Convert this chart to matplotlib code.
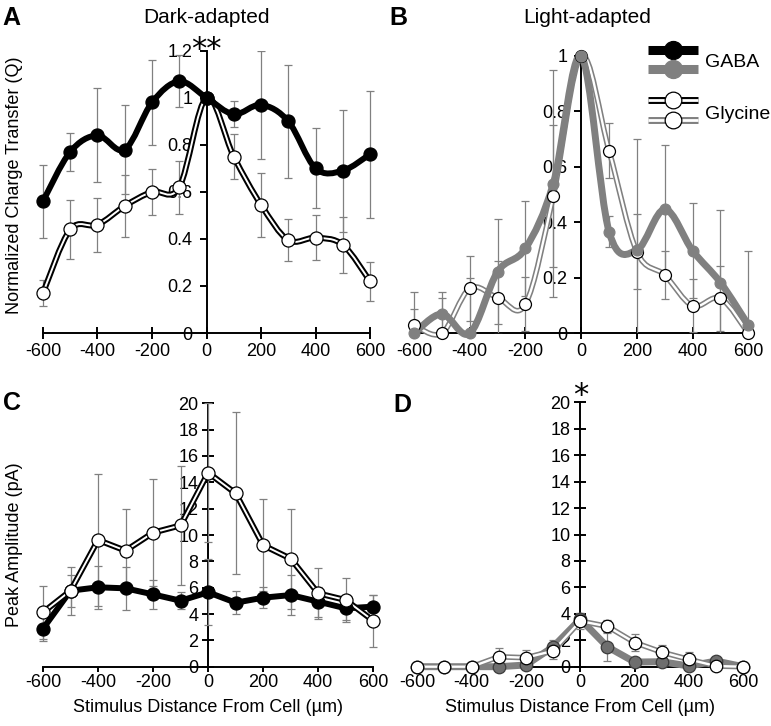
import numpy as np
import matplotlib
matplotlib.use('Agg')
import matplotlib.pyplot as plt
import matplotlib.patches as patches
from matplotlib.path import Path
from matplotlib.lines import Line2D

plt.rcParams['font.family'] = ['Liberation Sans', 'DejaVu Sans']
plt.rcParams['axes.unicode_minus'] = False

W, H = 771, 726
GRAY = '#808080'

# stimulus distance (um)
distance = [-600, -500, -400, -300, -200, -100, 0, 100, 200, 300, 400, 500, 600]
x_ticks = [-600, -400, -200, 0, 200, 400, 600]
x_ticklabels = ['-600', '-400', '-200', '0', '200', '400', '600']

# A: dark-adapted, normalized charge transfer
dark_gaba_q = [0.56, 0.77, 0.84, 0.78, 0.98, 1.07, 1.00, 0.93, 0.97, 0.90, 0.70, 0.69, 0.76]
dark_gaba_q_err = [0.155, 0.08, 0.20, 0.19, 0.18, 0.11, 0.0, 0.055, 0.23, 0.24, 0.17, 0.26, 0.27]
dark_gly_q = [0.17, 0.44, 0.46, 0.54, 0.60, 0.62, 1.00, 0.75, 0.545, 0.395, 0.405, 0.375, 0.22]
dark_gly_q_err = [0.057, 0.124, 0.115, 0.133, 0.099, 0.113, 0.0, 0.095, 0.136, 0.089, 0.096, 0.12, 0.082]

# B: light-adapted, normalized charge transfer
light_gaba_q = [0.0, 0.07, 0.0, 0.222, 0.306, 0.54, 1.00, 0.367, 0.30, 0.447, 0.298, 0.183, 0.03]
light_gaba_q_err = [0.087, 0.078, 0.20, 0.189, 0.171, 0.41, 0.0, 0.056, 0.40, 0.232, 0.171, 0.262, 0.268]
light_gly_q = [0.03, 0.0, 0.162, 0.129, 0.105, 0.496, 1.00, 0.659, 0.294, 0.21, 0.099, 0.126, 0.0]
light_gly_q_err = [0.12, 0.126, 0.117, 0.133, 0.097, 0.256, 0.0, 0.099, 0.136, 0.088, 0.096, 0.117, 0.04]

# C: dark-adapted, peak amplitude (pA)
dark_gaba_amp = [2.89, 5.77, 6.03, 5.95, 5.49, 5.01, 5.65, 4.86, 5.24, 5.44, 4.94, 4.43, 4.56]
dark_gaba_amp_err = [0.91, 1.2, 1.65, 1.65, 1.1, 0.65, 2.5, 0.86, 0.82, 1.52, 1.14, 0.89, 0.9]
dark_gly_amp = [4.13, 5.77, 9.62, 8.81, 10.18, 10.73, 14.73, 13.16, 9.22, 8.2, 5.57, 5.06, 3.49]
dark_gly_amp_err = [2.03, 1.83, 5.01, 3.14, 4.05, 4.53, 5.27, 6.15, 3.49, 3.8, 1.95, 1.65, 1.97]

# D: light-adapted, peak amplitude (pA)
light_gaba_amp = [0.0, 0.0, 0.0, 0.0, 0.13, 1.5, 3.6, 1.5, 0.35, 0.38, 0.05, 0.43, 0.0]
light_gaba_amp_err = [0.0, 0.0, 0.0, 0.1, 0.2, 0.5, 0.45, 1.1, 0.2, 0.3, 0.1, 0.3, 0.0]
light_gly_amp = [0.0, 0.0, 0.0, 0.75, 0.68, 1.2, 3.45, 3.05, 1.83, 1.1, 0.55, 0.05, 0.0]
light_gly_amp_err = [0.0, 0.0, 0.0, 0.63, 0.58, 0.62, 0.62, 0.5, 0.62, 0.57, 0.57, 0.1, 0.0]

q_ticks = [0, 0.2, 0.4, 0.6, 0.8, 1.0, 1.2]
q_ticklabels = ['0', '0.2', '0.4', '0.6', '0.8', '1', '1.2']
amp_ticks = [0, 2, 4, 6, 8, 10, 12, 14, 16, 18, 20]


def px_axes(fig, left, top, right, bottom):
    return fig.add_axes([left / W, 1 - bottom / H, (right - left) / W, (bottom - top) / H])


def fx(x):
    return x / W


def fy(y):
    return 1 - y / H


def smooth_path(x, y):
    # cubic bezier through the points (spreadsheet-style smoothed line)
    pts = np.column_stack([x, y]).astype(float)
    n = len(pts)
    verts = [pts[0]]
    codes = [Path.MOVETO]
    for i in range(n - 1):
        p0 = pts[max(i - 1, 0)]
        p1 = pts[i]
        p2 = pts[i + 1]
        p3 = pts[min(i + 2, n - 1)]
        verts += [p1 + (p2 - p0) / 6, p2 - (p3 - p1) / 6, p2]
        codes += [Path.CURVE4] * 3
    return Path(verts, codes)


def style_axes(ax, ylim, yticks, yticklabels, ytick_dir, ytick_len, ypad, xtick_dir, xtick_len, xpad):
    ax.set_xlim(-620, 620)
    ax.set_ylim(*ylim)
    ax.patch.set_visible(False)
    ax.spines['top'].set_visible(False)
    ax.spines['right'].set_visible(False)
    ax.spines['left'].set_position(('data', 0))
    ax.spines['bottom'].set_bounds(-600, 600)
    for s in ['left', 'bottom']:
        ax.spines[s].set_linewidth(1.4)
    ax.set_xticks(x_ticks)
    ax.set_xticklabels(x_ticklabels)
    ax.set_yticks(yticks)
    ax.set_yticklabels(yticklabels)
    ax.tick_params(axis='y', direction=ytick_dir, length=ytick_len, width=1.4, pad=ypad, labelsize=13)
    ax.tick_params(axis='x', direction=xtick_dir, length=xtick_len, width=1.4, pad=xpad, labelsize=13)


def draw_series(ax, x, y, err, smooth, outer, inner, lw_outer, lw_inner, mfc, mec, ms, z):
    ax.errorbar(x, y, yerr=err, fmt='none', ecolor=GRAY, elinewidth=0.9, capsize=3, capthick=0.9, zorder=2.6)
    if smooth:
        path = smooth_path(x, y)
    else:
        path = Path(np.column_stack([x, y]).astype(float))
    ax.add_patch(patches.PathPatch(path, facecolor='none', edgecolor=outer, lw=lw_outer,
                                   joinstyle='round', capstyle='butt', clip_on=False, zorder=z))
    if inner is not None:
        ax.add_patch(patches.PathPatch(path, facecolor='none', edgecolor=inner, lw=lw_inner,
                                       joinstyle='round', capstyle='butt', clip_on=False, zorder=z + 0.1))
    ax.plot(x, y, 'o', ms=ms, mfc=mfc, mec=mec, mew=0.9, clip_on=False, zorder=z + 3)


fig = plt.figure(figsize=(W / 100, H / 100), dpi=100)

# panel A
ax_a = px_axes(fig, 37.5, 50.7, 375.5, 333)
style_axes(ax_a, (0, 1.2), q_ticks, q_ticklabels, 'out', 5, 5, 'inout', 8, 3)
draw_series(ax_a, distance, dark_gly_q, dark_gly_q_err, True, 'black', 'white', 4.3, 1.4, 'white', 'black', 9.4, 3)
draw_series(ax_a, distance, dark_gaba_q, dark_gaba_q_err, True, 'black', None, 4.3, 0, 'black', 'black', 9.4, 3.5)

# panel B
ax_b = px_axes(fig, 408.4, 56, 753.9, 333.3)
style_axes(ax_b, (0, 1.0), q_ticks[:6], q_ticklabels[:6], 'out', 5, 5, 'inout', 8, 3)
draw_series(ax_b, distance, light_gly_q, light_gly_q_err, True, GRAY, 'white', 4.0, 1.7, 'white', 'black', 8.6, 3)
draw_series(ax_b, distance, light_gaba_q, light_gaba_q_err, True, GRAY, None, 5.0, 0, GRAY, GRAY, 7.8, 3.5)

# panel C
ax_c = px_axes(fig, 37.5, 403.3, 378.8, 666.7)
style_axes(ax_c, (0, 20), amp_ticks, [str(v) for v in amp_ticks], 'inout', 8, 3, 'out', 3.5, 2)
draw_series(ax_c, distance, dark_gly_amp, dark_gly_amp_err, False, 'black', 'white', 4.3, 1.4, 'white', 'black', 9.4, 3)
draw_series(ax_c, distance, dark_gaba_amp, dark_gaba_amp_err, False, 'black', None, 4.3, 0, 'black', 'black', 9.4, 2.9)

# panel D
ax_d = px_axes(fig, 411.9, 402.3, 748.7, 666.7)
style_axes(ax_d, (0, 20), amp_ticks, [str(v) for v in amp_ticks], 'inout', 8, 3, 'out', 3.5, 2)
draw_series(ax_d, distance, light_gly_amp, light_gly_amp_err, False, GRAY, 'white', 4.0, 1.7, 'white', 'black', 9, 3)
draw_series(ax_d, distance, light_gaba_amp, light_gaba_amp_err, False, GRAY, None, 5.0, 0, '#6e6e6e', '#3c3c3c', 9, 2.9)

# titles, panel letters, axis labels
fig.text(fx(206.7), fy(22.7), 'Dark-adapted', fontsize=15, ha='center', va='baseline')
fig.text(fx(586.7), fy(22.7), 'Light-adapted', fontsize=15, ha='center', va='baseline')
for letter, (lx, ly) in zip('ABCD', [(2, 25), (389, 25), (3, 410), (393, 411.7)]):
    fig.text(fx(lx), fy(ly), letter, fontsize=18, fontweight='bold', ha='left', va='baseline')
fig.text(fx(15), fy(185), 'Normalized Charge Transfer (Q)', fontsize=13, rotation=90, ha='center', va='center')
fig.text(fx(15), fy(545), 'Peak Amplitude (pA)', fontsize=13, rotation=90, ha='center', va='center')
fig.text(fx(208), fy(707), 'Stimulus Distance From Cell (µm)', fontsize=13, ha='center', va='center')
fig.text(fx(580), fy(707), 'Stimulus Distance From Cell (µm)', fontsize=13, ha='center', va='center')

# significance stars
fig.text(fx(206.5), fy(58), '**', fontsize=22, family='DejaVu Sans', ha='center', va='baseline')
fig.text(fx(581), fy(404), '*', fontsize=22, family='DejaVu Sans', ha='center', va='baseline')

# legend (drawn by hand: two line styles per label)
lx0, lx1, lxm = 648, 698, 673
legend_rows = [
    (50, 'black', None, 6.5, 'black', 'black', 13),
    (69, GRAY, None, 6.5, GRAY, GRAY, 13),
    (100, 'black', 'white', 5.0, 'white', 'black', 12),
    (120, GRAY, 'white', 5.0, 'white', 'black', 12),
]
for ly, col, inner, lw, mfc, mec, ms in legend_rows:
    fig.add_artist(Line2D([fx(lx0), fx(lx1)], [fy(ly), fy(ly)], transform=fig.transFigure,
                          color=col, lw=lw, solid_capstyle='butt'))
    if inner is not None:
        fig.add_artist(Line2D([fx(lx0), fx(lx1)], [fy(ly), fy(ly)], transform=fig.transFigure,
                              color=inner, lw=2.0, solid_capstyle='butt'))
    fig.add_artist(Line2D([fx(lxm)], [fy(ly)], transform=fig.transFigure, marker='o', ms=ms,
                          mfc=mfc, mec=mec, mew=0.9, linestyle='none'))
fig.text(fx(705), fy(66.7), 'GABA', fontsize=14, ha='left', va='baseline')
fig.text(fx(705), fy(119), 'Glycine', fontsize=14, ha='left', va='baseline')

fig.savefig('out.png', dpi=100)
